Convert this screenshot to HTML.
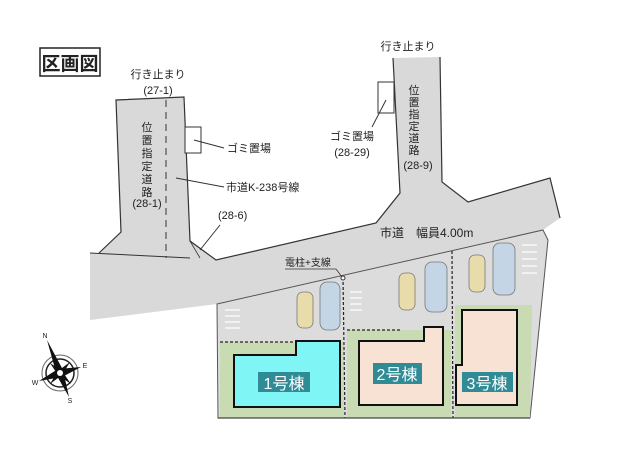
<!DOCTYPE html>
<html><head><meta charset="utf-8"><style>
html,body{margin:0;padding:0;background:#fff;}
svg{display:block;}
text{font-family:"Liberation Sans","Noto Sans CJK JP",sans-serif;fill:#222;}
</style></head><body>
<svg width="620" height="459" viewBox="0 0 620 459" xmlns="http://www.w3.org/2000/svg">
<rect width="620" height="459" fill="#fff"/>
<rect x="40" y="48" width="60" height="28" fill="#fff" stroke="#222" stroke-width="1.5"/>
<text x="70" y="70" font-size="19" font-weight="bold" text-anchor="middle">区画図</text>

<path d="M116,100 L184,97 L190,241 L216,260 L376,223 L400,193 L393,58 L440,57 L442,182 L468,202 L550,178 L560,218 L543,230 L217,304 L90,320 L90,253 L99,253 L121,232 Z" fill="#d9d9d9" stroke="none"/>
<path d="M99,253 L121,232 L116,100 L184,97 L190,241 L216,260 L376,223 L400,193 L393,58" fill="none" stroke="#333" stroke-width="1.2"/>
<path d="M440,57 L442,182 L468,202 L550,178 L560,218" fill="none" stroke="#333" stroke-width="1.2"/>
<path d="M90,253 L190,258" fill="none" stroke="#333" stroke-width="1"/>
<line x1="166" y1="100" x2="166" y2="258" stroke="#333" stroke-width="1" stroke-dasharray="7,5"/>
<path d="M190,241 L200,258" stroke="#333" stroke-width="0.8" fill="none"/>

<path d="M217,304 L543,230 L548,240 L530,418 L218,418 Z" fill="#dcdcdc" stroke="#555" stroke-width="1"/>
<rect x="220" y="342" width="124" height="76" fill="#c8dbb2"/>
<rect x="347" y="330" width="104" height="88" fill="#c8dbb2"/>
<path d="M455,305 L532,305 L530,418 L455,418 Z" fill="#c8dbb2"/>
<line x1="343" y1="277" x2="345" y2="418" stroke="#222" stroke-width="1.2" stroke-dasharray="3,2"/>
<line x1="452" y1="251" x2="453" y2="418" stroke="#222" stroke-width="1.2" stroke-dasharray="3,2"/>
<line x1="220" y1="342" x2="296" y2="342" stroke="#222" stroke-width="1.2" stroke-dasharray="3,2"/>
<line x1="347" y1="330" x2="400" y2="330" stroke="#222" stroke-width="1.2" stroke-dasharray="3,2"/>
<line x1="218" y1="418" x2="530" y2="418" stroke="#444" stroke-width="1.2"/>
<g stroke="#fff" stroke-width="1.2">
<line x1="225" y1="310" x2="240" y2="310"/><line x1="225" y1="316" x2="240" y2="316"/><line x1="225" y1="322" x2="240" y2="322"/><line x1="225" y1="328" x2="240" y2="328"/>
<line x1="350" y1="292" x2="362" y2="292"/><line x1="350" y1="298" x2="362" y2="298"/><line x1="350" y1="304" x2="362" y2="304"/><line x1="350" y1="310" x2="362" y2="310"/>
<line x1="522" y1="245" x2="537" y2="245"/><line x1="522" y1="252" x2="537" y2="252"/><line x1="522" y1="259" x2="537" y2="259"/><line x1="522" y1="266" x2="537" y2="266"/><line x1="522" y1="273" x2="537" y2="273"/>
</g>

<path d="M234,355 L296,355 L296,341 L340,341 L340,407 L234,407 Z" fill="#7ff5f5" stroke="#111" stroke-width="2"/>
<path d="M359,341 L424,341 L424,327 L443,327 L443,405 L359,405 Z" fill="#f8e2d4" stroke="#111" stroke-width="2"/>
<path d="M462,310 L517,310 L517,405 L456,405 L456,365 L462,365 Z" fill="#f8e2d4" stroke="#111" stroke-width="2"/>
<rect x="258" y="372" width="52" height="20" fill="#2f8b95"/>
<text x="284" y="389" font-size="16" text-anchor="middle" style="fill:#fff">1号棟</text>
<rect x="373" y="363" width="49" height="21" fill="#2f8b95"/>
<text x="397" y="380" font-size="16" text-anchor="middle" style="fill:#fff">2号棟</text>
<rect x="462" y="372" width="51" height="20" fill="#2f8b95"/>
<text x="487" y="389" font-size="16" text-anchor="middle" style="fill:#fff">3号棟</text>

<g stroke="#777" stroke-width="0.8">
<rect x="297" y="292" width="16" height="36" rx="6" fill="#e8dcaa"/>
<rect x="320" y="282" width="20" height="48" rx="7" fill="#c4d6e6"/>
<rect x="399" y="273" width="16" height="37" rx="6" fill="#e8dcaa"/>
<rect x="425" y="262" width="22" height="50" rx="7" fill="#c4d6e6"/>
<rect x="469" y="255" width="16" height="37" rx="6" fill="#e8dcaa"/>
<rect x="493" y="243" width="22" height="52" rx="7" fill="#c4d6e6"/>
</g>

<rect x="185" y="127" width="16" height="26" fill="#fff" stroke="#333"/>
<line x1="194" y1="140" x2="224" y2="148" stroke="#333"/>
<rect x="378" y="82" width="16" height="31" fill="#fff" stroke="#333"/>
<line x1="386" y1="100" x2="372" y2="127" stroke="#333"/>
<line x1="176" y1="178" x2="224" y2="187" stroke="#333"/>
<line x1="200" y1="250" x2="220" y2="225" stroke="#333"/>

<g font-size="11">
<text x="158" y="78" text-anchor="middle">行き止まり</text>
<text x="158" y="94" text-anchor="middle">(27-1)</text>
<text x="408" y="50" text-anchor="middle">行き止まり</text>
<text x="227" y="152">ゴミ置場</text>
<text x="226" y="191">市道K-238号線</text>
<text x="218" y="219">(28-6)</text>
<text x="352" y="140" text-anchor="middle">ゴミ置場</text>
<text x="352" y="156" text-anchor="middle">(28-29)</text>
<text x="147" y="207" text-anchor="middle">(28-1)</text>
<text x="418" y="169" text-anchor="middle">(28-9)</text>
<text x="380" y="237" font-size="12">市道　幅員4.00m</text>
<text x="285" y="266" font-size="10">電柱+支線</text>
</g>
<line x1="285" y1="269" x2="336" y2="269" stroke="#333" stroke-width="0.8"/>
<line x1="336" y1="269" x2="342" y2="277" stroke="#333" stroke-width="0.8"/>
<circle cx="343" cy="278" r="2" fill="#fff" stroke="#333"/>
<g font-size="11" text-anchor="middle">
<text x="147" y="131">位</text><text x="147" y="144">置</text><text x="147" y="157">指</text><text x="147" y="170">定</text><text x="147" y="183">道</text><text x="147" y="196">路</text>
<text x="414" y="94">位</text><text x="414" y="106">置</text><text x="414" y="118">指</text><text x="414" y="130">定</text><text x="414" y="142">道</text><text x="414" y="154">路</text>
</g>

<g>
<circle cx="60" cy="373" r="18" fill="none" stroke="#666" stroke-width="1"/>
<circle cx="60" cy="373" r="14" fill="none" stroke="#222" stroke-width="1.5"/>
<polygon points="47,340 63,370 57,376" fill="#111"/>
<polygon points="69,397 57,376 63,370" fill="#111"/>
<polygon points="81,367 62,377 58,369" fill="#111"/>
<polygon points="39,381 58,369 62,377" fill="#111"/>
<polygon points="70,362 62,375 58,371" fill="#111"/>
<polygon points="50,384 58,371 62,375" fill="#111"/>
<polygon points="50,363 62,371 58,375" fill="#111"/>
<polygon points="71,384 58,375 62,371" fill="#111"/>
<circle cx="60" cy="373" r="3" fill="#fff"/>
<text x="45" y="338" font-size="7" text-anchor="middle">N</text>
<text x="70" y="403" font-size="7" text-anchor="middle">S</text>
<text x="85" y="368" font-size="7" text-anchor="middle">E</text>
<text x="35" y="385" font-size="7" text-anchor="middle">W</text>
</g>
</svg>
</body></html>
